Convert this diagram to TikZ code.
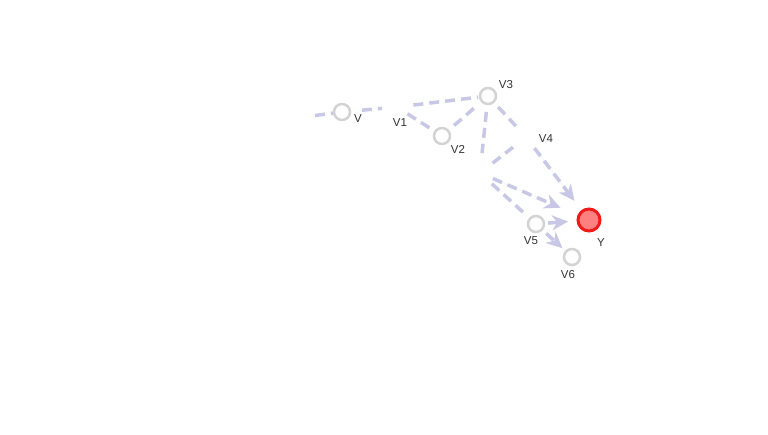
\documentclass[tikz,border=0pt]{standalone}
\usepackage{fontspec}
\setmainfont{Liberation Sans}
\usetikzlibrary{arrows.meta}
\definecolor{edgecol}{HTML}{C8C8E6}
\definecolor{nodegray}{HTML}{D3D3D3}
\definecolor{ystroke}{HTML}{F01A1A}
\definecolor{yfill}{HTML}{FF8080}
\definecolor{labcol}{HTML}{333333}
\tikzset{
  edge/.style={draw=edgecol, line width=3.5pt, dash pattern=on 10pt off 6pt},
  arr/.style={edge, -{Stealth[length=16pt,width=15pt,inset=5pt]}, fill=edgecol},
  vnode/.style={circle, draw=nodegray, line width=2.5pt, fill=white, minimum size=16pt, inner sep=0pt},
  ynode/.style={circle, draw=ystroke, line width=3pt, fill=yfill, minimum size=22pt, inner sep=0pt},
  lab/.style={font=\fontsize{11.5}{12}\selectfont, text=labcol, inner sep=0pt}
}
\begin{document}
\begin{tikzpicture}[x=1pt,y=-1pt]
\useasboundingbox[fill=white] (0,0) rectangle (768,435);
% hidden positions
\coordinate (L) at (315,115.5);
\coordinate (V1) at (397,107);
\coordinate (V4) at (526,137);
\coordinate (H) at (480,173);
% visible centres
\coordinate (cV) at (342,112);
\coordinate (cV2) at (442,136);
\coordinate (cV3) at (488,96);
\coordinate (cV5) at (536,224);
\coordinate (cV6) at (572,257);
\coordinate (cY) at (589,220);
% edges
\draw[edge, shorten >=9pt] (L) -- (cV);
\draw[edge, shorten <=20pt, shorten >=15pt] (cV) -- (V1);
\draw[edge, shorten <=16.5pt, shorten >=10pt] (V1) -- (cV3);
\draw[edge, shorten <=12.5pt, shorten >=12pt] (V1) -- (cV2);
\draw[edge, shorten <=16pt, shorten >=16pt] (cV2) -- (cV3);
\draw[edge, shorten <=16pt, shorten >=20pt] (cV3) -- (H);
\draw[edge, shorten <=15pt, shorten >=15pt] (cV3) -- (V4);
\draw[edge, shorten <=16pt, shorten >=16.5pt] (H) -- (V4);
\draw[edge, shorten <=16pt, shorten >=17.7pt] (H) -- (cV5);
\draw[arr, shorten <=14pt, shorten >=24pt] (V4) -- (cY);
\draw[arr, shorten <=14pt, shorten >=31pt] (H) -- (cY);
\draw[arr, shorten <=12pt, shorten >=21pt] (cV5) -- (cY);
\draw[arr, shorten <=14pt, shorten >=13pt] (cV5) -- (cV6);
% nodes
\node[vnode] (V) at (cV) {};
\node[vnode] (V2) at (cV2) {};
\node[vnode] (V3) at (cV3) {};
\node[vnode] (V5) at (cV5) {};
\node[vnode] (V6) at (cV6) {};
\node[ynode] (Y) at (cY) {};
% labels
\node[lab] (lV) at (358,119) {V};
\node[lab] (lV1) at (400,123) {V1};
\node[lab] (lV2) at (458,149) {V2};
\node[lab] (lV3) at (506,85) {V3};
\node[lab] (lV4) at (546,139) {V4};
\node[lab] (lV5) at (531,241) {V5};
\node[lab] (lY) at (601,243) {Y};
\node[lab] (lV6) at (568,275) {V6};
\end{tikzpicture}
\end{document}
